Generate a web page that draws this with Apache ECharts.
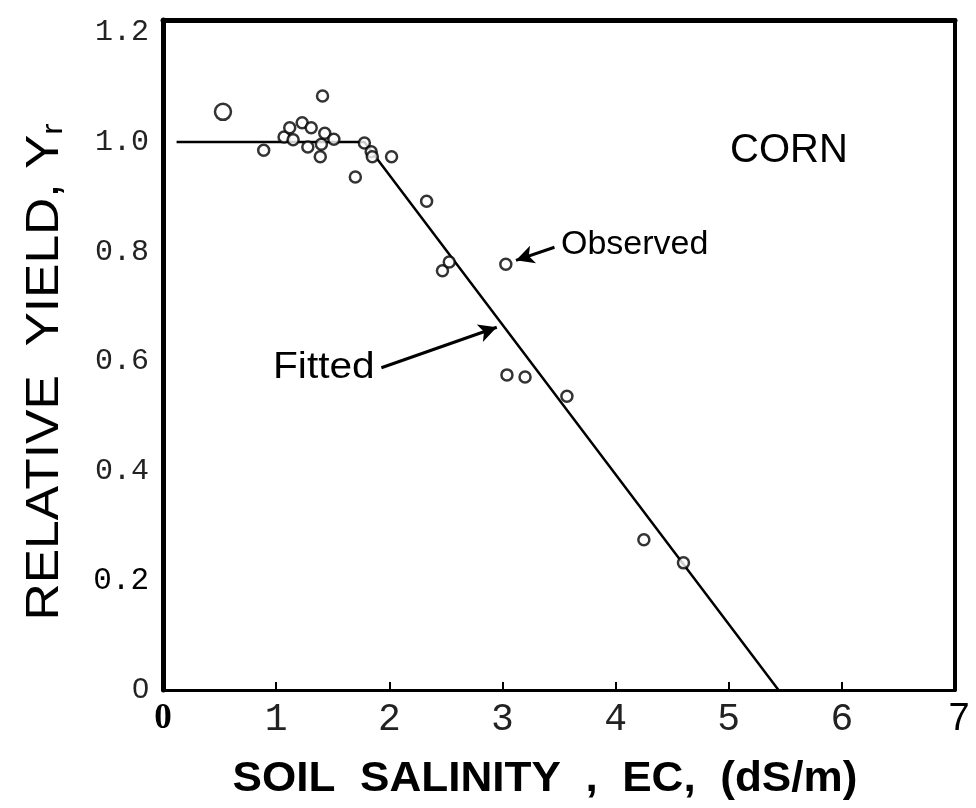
<!DOCTYPE html>
<html>
<head>
<meta charset="utf-8">
<script src="https://cdn.jsdelivr.net/npm/echarts@6/dist/echarts.min.js"></script>
<style>
html,body{margin:0;padding:0;background:#fff;}
#chart{width:976px;height:808px;}
</style>
</head>
<body>
<div id="chart"></div>
<script>
// ---- data ----
const obsX = [0.53, 0.89, 1.07, 1.12, 1.15, 1.23, 1.28, 1.31, 1.39, 1.40, 1.41, 1.43, 1.51, 1.70, 1.78, 1.84, 1.85, 2.02, 2.33, 2.47, 2.53, 3.03, 3.04, 3.20, 3.57, 4.25, 4.60];
const obsY = [1.055, 0.985, 1.009, 1.026, 1.004, 1.035, 0.991, 1.026, 0.973, 0.996, 1.084, 1.016, 1.005, 0.936, 0.998, 0.982, 0.973, 0.973, 0.892, 0.765, 0.781, 0.777, 0.575, 0.571, 0.536, 0.274, 0.232];
const fitX = [0.12, 1.78, 5.44];
const fitY = [1.0, 1.0, 0.0];
const xTickValues = [0, 1, 2, 3, 4, 5, 6, 7];
const xTickLabels = ['0', '1', '2', '3', '4', '5', '6', '7'];
const yTickValues = [0, 0.2, 0.4, 0.6, 0.8, 1.0, 1.2];
const yTickLabels = ['0', '0.2', '0.4', '0.6', '0.8', '1.0', '1.2'];
// annotation arrows (data coordinates): [fromX, fromY, toX, toY]
const observedArrow = [3.46, 0.808, 3.12, 0.784];
const fittedArrow = [1.93, 0.588, 2.95, 0.662];

const chart = echarts.init(document.getElementById('chart'), null, {renderer: 'canvas'});

function findIdx(arr, v) {
  for (let i = 0; i < arr.length; i++) if (Math.abs(arr[i] - v) < 1e-6) return i;
  return -1;
}

const xStyleKey = ['z', 'm', 'm', 'm', 'm', 'm', 'm', 's'];
const yStyleKey = ['s', 'c', 'm', 'm', 'm', 'm', 'm'];

const obsData = obsX.map((x, i) => ({
  value: [x, obsY[i]],
  symbolSize: i === 0 ? 16 : 11
}));

const option = {
  backgroundColor: '#fff',
  animation: false,
  grid: {left: 163, right: 21, top: 20, bottom: 118, show: false},
  xAxis: [{
    type: 'value', min: 0, max: 7, interval: 1, position: 'bottom',
    axisLine: {show: true, onZero: false, lineStyle: {color: '#000', width: 3}},
    axisTick: {show: true, inside: true, length: 8, lineStyle: {color: '#000', width: 2}},
    splitLine: {show: false},
    axisLabel: {
      margin: 11,
      formatter: v => {
        const i = findIdx(xTickValues, v);
        if (i < 0) return '';
        return '{' + xStyleKey[i] + '|' + xTickLabels[i] + '}';
      },
      rich: {
        z: {fontFamily: 'Liberation Serif', fontWeight: 'bold', fontSize: 35, color: '#000'},
        m: {fontFamily: 'Liberation Mono', fontSize: 38, color: '#222'},
        s: {fontFamily: 'Liberation Sans', fontSize: 38, color: '#000', padding: [0, 0, 0, 8]}
      }
    }
  }, {
    type: 'value', min: 0, max: 7, position: 'top',
    axisLine: {show: true, onZero: false, lineStyle: {color: '#000', width: 5}},
    axisTick: {show: false}, axisLabel: {show: false}, splitLine: {show: false}
  }],
  yAxis: [{
    type: 'value', min: 0, max: 1.2226, interval: 0.2, position: 'left',
    axisLine: {show: true, onZero: false, lineStyle: {color: '#000', width: 5}},
    axisTick: {show: false},
    splitLine: {show: false},
    axisLabel: {
      margin: 14,
      showMaxLabel: false,
      formatter: v => {
        const i = findIdx(yTickValues, v);
        if (i < 0) return '';
        return '{' + yStyleKey[i] + '|' + yTickLabels[i] + '}';
      },
      rich: {
        s: {fontFamily: 'Liberation Sans', fontSize: 30, color: '#222'},
        m: {fontFamily: 'Liberation Mono', fontSize: 30, color: '#222'},
        c: {fontFamily: 'Liberation Mono', fontSize: 31, color: '#000'}
      }
    }
  }, {
    type: 'value', min: 0, max: 1.2226, position: 'right',
    axisLine: {show: true, onZero: false, lineStyle: {color: '#000', width: 4}},
    axisTick: {show: false}, axisLabel: {show: false}, splitLine: {show: false}
  }],
  series: [{
    type: 'line',
    data: fitX.map((x, i) => [x, fitY[i]]),
    showSymbol: false,
    lineStyle: {color: '#000', width: 2.5},
    silent: true,
    z: 2
  }, {
    type: 'scatter',
    data: obsData,
    symbol: 'circle',
    itemStyle: {color: '#fff', borderColor: '#000', borderWidth: 2.5},
    z: 3,
    markLine: {
      silent: true,
      symbol: ['none', 'arrow'],
      symbolSize: [14, 18],
      label: {show: false},
      lineStyle: {color: '#000', width: 3, type: 'solid'},
      data: [
        [{coord: [observedArrow[0], observedArrow[1]]}, {coord: [observedArrow[2], observedArrow[3]]}],
        [{coord: [fittedArrow[0], fittedArrow[1]]}, {coord: [fittedArrow[2], fittedArrow[3]]}]
      ]
    }
  }],
  graphic: [{
    type: 'text', left: 730, top: 131,
    style: {text: 'CORN', font: '40px "Liberation Sans", Arial, sans-serif', fill: '#000'}
  }, {
    type: 'text', left: 561, top: 228,
    style: {text: 'Observed', font: '34px "Liberation Sans", Arial, sans-serif', fill: '#000'}
  }, {
    type: 'text', x: 273, y: 368, scaleX: 1.13,
    style: {text: 'Fitted', font: '36px "Liberation Sans", Arial, sans-serif', fill: '#000', verticalAlign: 'middle'}
  }, {
    type: 'text', x: 45, y: 372, rotation: Math.PI / 2, scaleX: 1.12,
    style: {
      text: '{a|RELATIVE  YIELD, Y}{b|r}',
      align: 'center', verticalAlign: 'middle',
      rich: {
        a: {fontFamily: '"Liberation Sans"', fontSize: 46, color: '#222'},
        b: {fontFamily: '"Liberation Sans"', fontSize: 30, color: '#222', padding: [18, 0, 0, 0]}
      }
    }
  }, {
    type: 'text', x: 545, y: 779, scaleX: 1.05,
    style: {
      text: 'SOIL  SALINITY  ,  EC,  (dS/m)',
      align: 'center', verticalAlign: 'middle',
      font: 'bold 42px "Liberation Sans"',
      fill: '#000'
    }
  }]
};
chart.setOption(option);
</script>
</body>
</html>
